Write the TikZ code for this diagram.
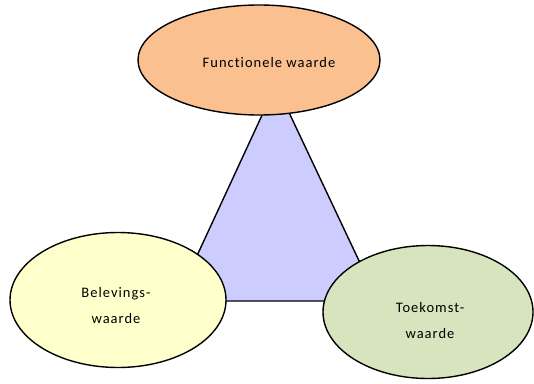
\documentclass[tikz,border=0pt]{standalone}
\usepackage{fontspec}
\setmainfont{Carlito}[LetterSpace=7,Ligatures=NoCommon]
\usetikzlibrary{shapes.geometric}
\definecolor{orangefill}{HTML}{FAC090}
\definecolor{yellowfill}{HTML}{FFFFCC}
\definecolor{greenfill}{HTML}{D7E4BD}
\definecolor{trifill}{HTML}{CCCCFF}
\tikzset{
  bubble/.style={ellipse, draw=black, line width=1.4pt, inner sep=0pt, align=center,
    font=\fontsize{14.5}{26}\selectfont},
  label text/.style={align=center, font=\fontsize{14.5}{26}\selectfont},
  tri/.style={draw=black, line width=1.4pt, fill=trifill, line join=miter}
}
\begin{document}
\begin{tikzpicture}[x=1pt,y=-1pt]
\useasboundingbox (0,0) rectangle (534,383);
\coordinate (apex) at (276,85);
\coordinate (bl) at (176,301);
\coordinate (br) at (378,301);
\draw[tri] (apex) -- (bl) -- (br) -- cycle;
\node[bubble, fill=orangefill, minimum width=242pt, minimum height=110pt] (fw) at (259,60) {};
\node[label text] (fwt) at (269,63) {Functionele waarde};
\node[bubble, fill=yellowfill, minimum width=216pt, minimum height=135pt] (bw) at (118,300) {};
\node[label text] (bwt) at (116,306) {Belevings-\\waarde};
\node[bubble, fill=greenfill, minimum width=210pt, minimum height=133pt] (tw) at (428,312) {};
\node[label text] (twt) at (430,321) {Toekomst-\\waarde};
\end{tikzpicture}
\end{document}
